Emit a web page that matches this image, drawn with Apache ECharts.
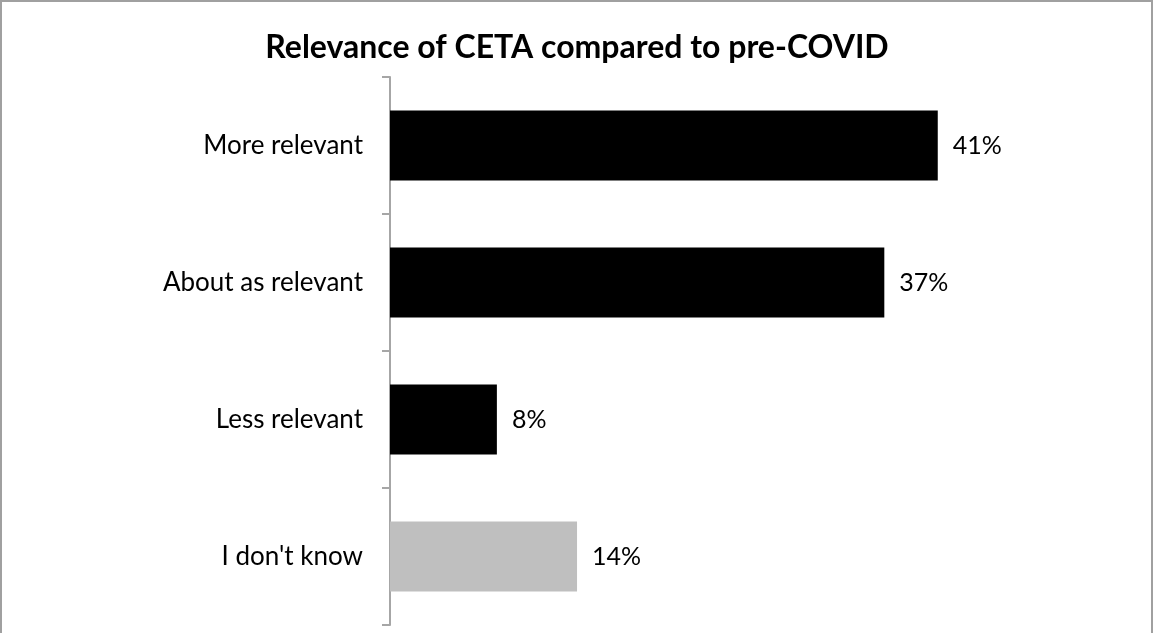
<!DOCTYPE html>
<html><head><meta charset="utf-8">
<script src="https://cdn.jsdelivr.net/npm/echarts@6/dist/echarts.min.js"></script>
<style>html,body{margin:0;padding:0;background:#fff}#c{width:1154px;height:633px}</style>
</head><body><div id="c"></div>
<script>
const categories = ["More relevant", "About as relevant", "Less relevant", "I don't know"];
const values = [41, 37, 8, 14];
const barColors = ["#000000", "#000000", "#000000", "#bfbfbf"];
const chart = echarts.init(document.getElementById('c'));
const font = "Lato, 'Open Sans', sans-serif";
chart.setOption({
  animation: false,
  backgroundColor: '#ffffff',
  title: {
    text: 'Relevance of CETA compared to pre-COVID',
    left: 'center', top: 27,
    textStyle: {fontFamily: font, fontWeight: 'bold', fontSize: 32, color: '#000'}
  },
  graphic: [{
    type: 'rect', shape: {x: 1, y: 1, width: 1151, height: 660},
    style: {fill: 'none', stroke: '#a0a0a0', lineWidth: 2}, silent: true
  }],
  grid: {left: 390, top: 77, bottom: 8, width: 668, containLabel: false},
  xAxis: {type: 'value', min: 0, max: 50, show: false},
  yAxis: {
    type: 'category', data: categories, inverse: true,
    axisLine: {show: true, lineStyle: {color: '#a6a6a6', width: 2}},
    axisTick: {show: true, length: 8, lineStyle: {color: '#a6a6a6', width: 2}},
    axisLabel: {fontFamily: font, fontSize: 26, color: '#000', margin: 27}
  },
  series: [{
    type: 'bar',
    data: values.map((v, i) => ({value: v, itemStyle: {color: barColors[i]}})),
    barWidth: '51%',
    label: {show: true, position: 'right', distance: 15, formatter: '{c}%',
            fontFamily: font, fontSize: 25, color: '#000'}
  }]
});
</script></body></html>
